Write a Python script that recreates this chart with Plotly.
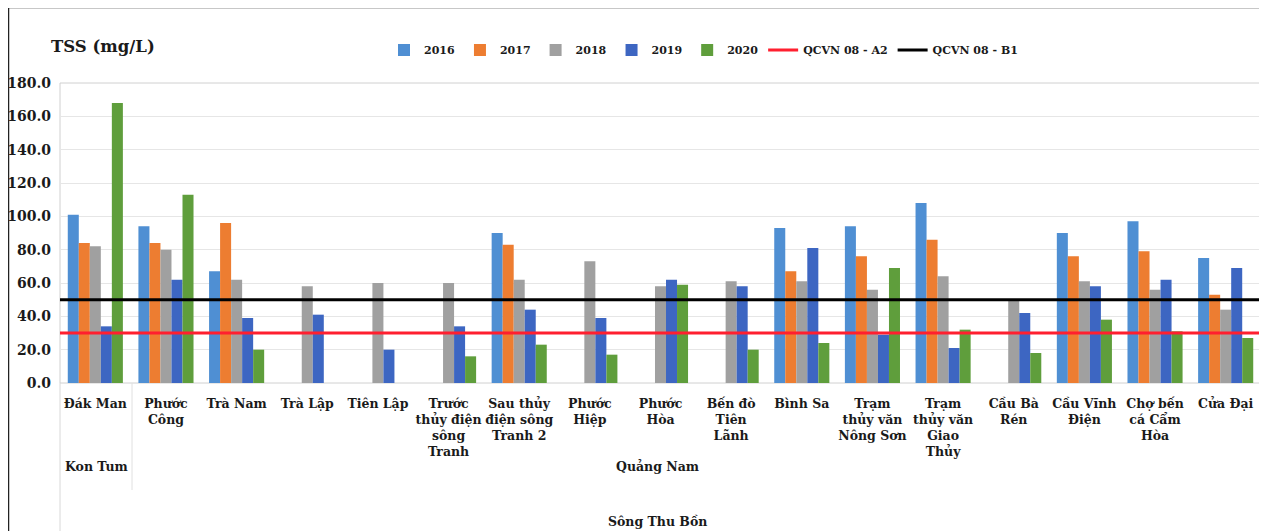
import plotly.graph_objects as go

categories = ["Đák Man", "Phước Công", "Trà Nam", "Trà Lập", "Tiên Lập",
              "Trước thủy điện sông Tranh", "Sau thủy điện sông Tranh 2",
              "Phước Hiệp", "Phước Hòa", "Bến đò Tiên Lãnh", "Bình Sa",
              "Trạm thủy văn Nông Sơn", "Trạm thủy văn Giao Thủy", "Cầu Bà Rén",
              "Cầu Vĩnh Điện", "Chợ bến cá Cẩm Hòa", "Cửa Đại"]
tick_labels = ["Đák Man", "Phước<br>Công", "Trà Nam", "Trà Lập", "Tiên Lập",
               "Trước<br>thủy điện<br>sông<br>Tranh", "Sau thủy<br>điện sông<br>Tranh 2",
               "Phước<br>Hiệp", "Phước<br>Hòa", "Bến đò<br>Tiên<br>Lãnh", "Bình Sa",
               "Trạm<br>thủy văn<br>Nông Sơn", "Trạm<br>thủy văn<br>Giao<br>Thủy", "Cầu Bà<br>Rén",
               "Cầu Vĩnh<br>Điện", "Chợ bến<br>cá Cẩm<br>Hòa", "Cửa Đại"]

tss_2016 = [101, 94, 67, None, None, None, 90, None, None, None, 93, 94, 108, None, 90, 97, 75]
tss_2017 = [84, 84, 96, None, None, None, 83, None, None, None, 67, 76, 86, None, 76, 79, 53]
tss_2018 = [82, 80, 62, 58, 60, 60, 62, 73, 58, 61, 61, 56, 64, 50, 61, 56, 44]
tss_2019 = [34, 62, 39, 41, 20, 34, 44, 39, 62, 58, 81, 29, 21, 42, 58, 62, 69]
tss_2020 = [168, 113, 20, None, None, 16, 23, 17, 59, 20, 24, 69, 32, 18, 38, 31, 27]

years = ["2016", "2017", "2018", "2019", "2020"]
series = [tss_2016, tss_2017, tss_2018, tss_2019, tss_2020]
colors = ["#4f8fd3", "#ed7d31", "#a0a0a0", "#3d66c2", "#5f9e3c"]

limit_a2 = 30
limit_b1 = 50
limit_names = ["QCVN 08 - A2", "QCVN 08 - B1"]

groups_lvl1 = ["Kon Tum", "Quảng Nam"]
group_lvl2 = "Sông Thu Bồn"

FF = "DejaVu Serif"
TXT = "#1a1a1a"
xs = list(range(len(categories)))
n = len(categories)

fig = go.Figure()
for name, vals, col in zip(years, series, colors):
    fig.add_trace(go.Bar(x=xs, y=vals, name=name, marker_color=col,
                         marker_line_width=0))

fig.add_trace(go.Scatter(x=[-0.5, n - 0.5], y=[limit_a2, limit_a2], mode="lines",
                         name=limit_names[0], line=dict(color="#ff1f2f", width=3)))
fig.add_trace(go.Scatter(x=[-0.5, n - 0.5], y=[limit_b1, limit_b1], mode="lines",
                         name=limit_names[1], line=dict(color="#000000", width=3)))

OFF = 8  # page offset of the figure (body margin)
W, H = 1259, 523
L, R, T, B = 52, 6, 75, 148
pw, ph = W - L - R, H - T - B


def px_x(p):
    # page pixel -> paper x
    return (p - OFF - L) / pw


def px_y(p):
    # page pixel -> paper y
    return (H - B - (p - OFF)) / ph


def f(size):
    return dict(family=FF, size=size, color=TXT, weight="bold")


fig.update_layout(
    width=W, height=H,
    margin=dict(l=L, r=R, t=T, b=B, autoexpand=False),
    paper_bgcolor="white", plot_bgcolor="white",
    font=f(13),
    barmode="group", bargap=0.22, bargroupgap=0,
    showlegend=True,
    legend=dict(orientation="h", x=px_x(384), y=px_y(50), yanchor="middle", xanchor="left",
                font=f(11), bgcolor="rgba(0,0,0,0)", itemwidth=30, traceorder="normal"),
    xaxis=dict(range=[-0.5, n - 0.5], tickmode="array", tickvals=xs, ticktext=tick_labels,
               showgrid=False, zeroline=False, showline=False, ticks="", automargin=False,
               tickfont=f(12.5), tickangle=0, fixedrange=True, ticklabelstandoff=11),
    yaxis=dict(range=[0, 180], dtick=20, tickformat=".1f", showgrid=True,
               gridcolor="#e6e6e6", gridwidth=1, zeroline=False, showline=False, ticks="",
               automargin=False, tickfont=f(14), fixedrange=True, ticklabelstandoff=8),
    shapes=[
        dict(type="rect", xref="paper", yref="paper", x0=0, x1=1, y0=0, y1=1,
             line=dict(color="#d0d0d0", width=1), layer="below"),
        dict(type="rect", xref="paper", yref="paper", x0=px_x(8.5), x1=px_x(1290),
             y0=px_y(560), y1=px_y(7.5), line=dict(color="#222", width=1.5)),
        dict(type="line", xref="paper", yref="paper", x0=0, x1=0, y0=0, y1=px_y(531),
             line=dict(color="#d8d8d8", width=1)),
        dict(type="line", xref="paper", yref="paper", x0=px_x(132), x1=px_x(132),
             y0=0, y1=px_y(490), line=dict(color="#e0e0e0", width=1)),
        dict(type="line", xref="paper", yref="paper", x0=1, x1=1, y0=0, y1=px_y(531),
             line=dict(color="#d8d8d8", width=1)),
    ],
    annotations=[
        dict(text="TSS (mg/L)", xref="paper", yref="paper", x=px_x(49), y=px_y(47),
             xanchor="left", yanchor="middle", showarrow=False, font=f(16.5)),
        dict(text=groups_lvl1[0], xref="paper", yref="paper", x=px_x(96), y=px_y(466),
             xanchor="center", yanchor="middle", showarrow=False, font=f(12.5)),
        dict(text=groups_lvl1[1], xref="paper", yref="paper", x=px_x(657), y=px_y(466),
             xanchor="center", yanchor="middle", showarrow=False, font=f(12.5)),
        dict(text=group_lvl2, xref="paper", yref="paper", x=px_x(657), y=px_y(521),
             xanchor="center", yanchor="middle", showarrow=False, font=f(12.5)),
    ],
)

fig.write_html("out.html")
